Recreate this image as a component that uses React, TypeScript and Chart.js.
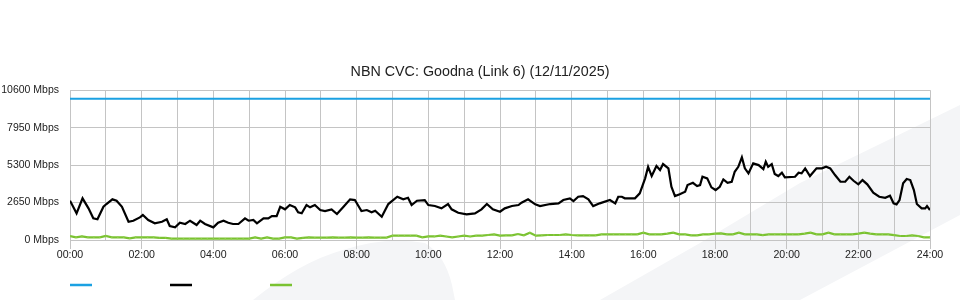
import React, { useEffect, useRef } from "react";
import { Chart, registerables } from "chart.js";

Chart.register(...registerables);

const TITLE = "NBN CVC: Goodna (Link 6) (12/11/2025)";
const Y_MAX = 10600;
const Y_STEP = 2650;
const DAY_MINUTES = 1440;

// Capacity (blue)
const capacityMinutes = [0, 1440];
const capacityMbps = [10000, 10000];

// Traffic (black) - minutes since midnight, Mbps
const trafficMinutes = [
  0, 11, 21, 31, 39, 46, 56, 61, 71, 78, 87, 98, 106, 117, 122, 131, 142, 154, 162, 167,
  176, 184, 193, 201, 212, 218, 226, 240, 248, 257, 265, 273, 282, 293, 299, 307, 313, 324, 332, 338,
  346, 352, 360, 368, 377, 382, 388, 396, 402, 410, 419, 427, 438, 447, 458, 469, 477, 488, 497, 505,
  511, 522, 533, 548, 558, 566, 572, 581, 594, 600, 611, 622, 633, 639, 650, 664, 678, 689, 698, 708,
  720, 728, 740, 751, 756, 767, 779, 787, 804, 818, 826, 837, 843, 851, 859, 868, 876, 887, 904, 913,
  918, 924, 929, 938, 946, 954, 963, 968, 974, 982, 988, 993, 1002, 1007, 1013, 1021, 1030, 1034, 1043, 1050,
  1055, 1059, 1067, 1074, 1081, 1088, 1094, 1101, 1108, 1113, 1119, 1125, 1130, 1136, 1144, 1153, 1161, 1165, 1169, 1175,
  1180, 1186, 1192, 1197, 1214, 1220, 1225, 1231, 1239, 1250, 1259, 1266, 1273, 1281, 1290, 1298, 1305, 1312, 1320, 1327,
  1335, 1345, 1355, 1365, 1373, 1379, 1384, 1389, 1395, 1401, 1407, 1413, 1418, 1426, 1432, 1435, 1440,
];
const trafficMbps = [
  2777, 1887, 2947, 2240, 1533, 1463, 2353, 2544, 2876, 2777, 2353, 1293, 1364, 1600, 1767, 1413, 1180, 1293, 1463, 989,
  895, 1222, 1131, 1364, 1060, 1364, 1131, 895, 1222, 1364, 1222, 1131, 1131, 1533, 1364, 1413, 1180, 1533, 1533, 1696,
  1696, 2353, 2169, 2473, 2311, 1957, 1887, 2473, 2311, 2473, 2120, 2049, 2169, 1837, 2353, 2876, 2827, 2049, 2120, 1957,
  2071, 1647, 2544, 3060, 2876, 2989, 2473, 2777, 2827, 2473, 2403, 2240, 2544, 2169, 1929, 1816, 1887, 2169, 2544, 2169,
  2000, 2240, 2403, 2473, 2636, 2876, 2523, 2403, 2544, 2594, 2827, 2947, 2756, 3060, 3109, 2876, 2403, 2594, 2827, 2594,
  3060, 3060, 2947, 2947, 2947, 3300, 4360, 5180, 4523, 5230, 4947, 5371, 5067, 3767, 3109, 3230, 3413, 3887, 4049, 3816,
  3887, 4473, 4360, 3724, 3534, 3767, 4290, 4049, 4120, 4827, 5180, 5844, 5067, 4714, 5420, 5300, 5018, 5533, 5180, 5371,
  4664, 4523, 4756, 4431, 4473, 4756, 4714, 5067, 4523, 5067, 5067, 5180, 5067, 4594, 4120, 4120, 4473, 4191, 3936, 4240,
  3936, 3343, 3060, 2989, 3131, 2594, 2523, 2827, 4007, 4311, 4240, 3534, 2544, 2240, 2240, 2403, 2120,
];

// Secondary traffic (green) - every 10 minutes
const secondaryMbps = [
  283, 190, 260, 190, 190, 190, 283, 190, 190, 190, 118, 190, 190, 190, 190, 150, 150, 94, 94, 94,
  94, 94, 94, 94, 94, 94, 94, 94, 94, 94, 94, 189, 94, 189, 94, 94, 189, 189, 94, 150,
  189, 165, 165, 165, 190, 165, 165, 190, 165, 165, 190, 165, 165, 165, 306, 306, 306, 306, 306, 189,
  250, 250, 306, 250, 189, 250, 306, 250, 306, 306, 353, 400, 306, 330, 330, 424, 330, 518, 306, 330,
  353, 353, 353, 400, 353, 330, 330, 330, 330, 400, 400, 400, 400, 400, 400, 400, 518, 400, 400, 400,
  450, 518, 400, 400, 330, 330, 400, 400, 450, 470, 400, 400, 518, 400, 400, 400, 350, 400, 400, 400,
  400, 400, 400, 450, 518, 400, 400, 518, 400, 400, 400, 400, 450, 518, 450, 400, 400, 400, 350, 283,
  283, 330, 283, 189, 189,
];
const secondaryStep = 10;

const BLUE = "#1ba1e2";
const BLACK = "#000000";
const GREEN = "#7ac231";
const GRID = "#c4c4c4";
const FONT = "'Liberation Sans', Arial, sans-serif";

const pad2 = (n: number) => (n < 10 ? "0" + n : "" + n);

const watermarkPlugin = {
  id: "watermark",
  beforeDraw(chart: any) {
    const ctx = chart.ctx;
    ctx.save();
    ctx.fillStyle = "#f4f5f7";
    ctx.beginPath();
    ctx.moveTo(600, 300);
    ctx.lineTo(700, 243);
    ctx.lineTo(800, 183);
    ctx.lineTo(960, 105);
    ctx.lineTo(960, 215);
    ctx.lineTo(800, 300);
    ctx.closePath();
    ctx.fill();
    ctx.beginPath();
    ctx.moveTo(253, 300);
    ctx.quadraticCurveTo(300, 262, 343, 250);
    ctx.quadraticCurveTo(385, 236, 425, 243);
    ctx.quadraticCurveTo(445, 255, 452, 285);
    ctx.lineTo(455, 300);
    ctx.closePath();
    ctx.fill();
    ctx.restore();
  },
};

const legendPlugin = {
  id: "lineLegend",
  afterDraw(chart: any) {
    const ctx = chart.ctx;
    const area = chart.chartArea;
    ctx.save();
    chart.data.datasets.forEach((ds: any, i: number) => {
      const x = area.left + i * 100;
      const y = chart.height - 15;
      ctx.strokeStyle = ds.borderColor;
      ctx.lineWidth = 2.5;
      ctx.beginPath();
      ctx.moveTo(x, y);
      ctx.lineTo(x + 22, y);
      ctx.stroke();
    });
    ctx.restore();
  },
};

export default function App() {
  const ref = useRef<HTMLCanvasElement | null>(null);

  useEffect(() => {
    document.body.style.margin = "0";
    const canvas = ref.current;
    if (!canvas) return;
    const chart = new Chart(canvas, {
      type: "line",
      data: {
        datasets: [
          {
            label: "Capacity",
            data: capacityMinutes.map((m, i) => ({ x: m, y: capacityMbps[i] })),
            borderColor: BLUE,
            backgroundColor: BLUE,
            borderWidth: 2,
            pointRadius: 0,
          },
          {
            label: "Traffic",
            data: trafficMinutes.map((m, i) => ({ x: m, y: trafficMbps[i] })),
            borderColor: BLACK,
            backgroundColor: BLACK,
            borderWidth: 2.2,
            pointRadius: 0,
            tension: 0,
          },
          {
            label: "Secondary",
            data: secondaryMbps.map((v, i) => ({ x: i * secondaryStep, y: v })),
            borderColor: GREEN,
            backgroundColor: "#8fcf4a",
            borderWidth: 2.2,
            pointRadius: 1,
            pointStyle: "rect",
            pointBorderWidth: 0,
          },
        ],
      },
      options: {
        animation: false,
        responsive: false,
        maintainAspectRatio: false,
        layout: { padding: { top: 53, right: 0, bottom: 38, left: 0 } },
        plugins: {
          legend: { display: false },
          tooltip: { enabled: false },
          title: {
            display: true,
            text: TITLE,
            color: "#222",
            font: { family: FONT, size: 14.3, weight: "normal" },
            padding: { top: 10, bottom: 10 },
          },
        },
        scales: {
          x: {
            type: "linear",
            min: 0,
            max: DAY_MINUTES,
            border: { display: false },
            afterFit: (s: any) => {
              s.height = 22;
            },
            grid: {
              color: GRID,
              lineWidth: 1,
              tickLength: 9,
              tickColor: (c: any) => (c.tick && c.tick.value % 120 === 0 ? GRID : "rgba(0,0,0,0)"),
            },
            ticks: {
              stepSize: 60,
              autoSkip: false,
              maxRotation: 0,
              padding: 0,
              color: "#222",
              font: { family: FONT, size: 10.6 },
              callback: (v: any) => (v % 120 === 0 ? pad2(Math.round(v / 60)) + ":00" : ""),
            },
          },
          y: {
            min: 0,
            max: Y_MAX,
            border: { display: false },
            grid: { color: GRID, lineWidth: 1, drawTicks: false },
            afterFit: (s: any) => {
              s.width = 70;
            },
            ticks: {
              stepSize: Y_STEP,
              padding: 11,
              color: "#222",
              font: { family: FONT, size: 10.5 },
              callback: (v: any) => v + " Mbps",
            },
          },
          yRight: {
            position: "right",
            display: true,
            min: 0,
            max: Y_MAX,
            border: { display: false },
            grid: { display: false, drawTicks: false },
            ticks: { display: false },
            afterFit: (s: any) => {
              s.width = 30;
            },
          },
        },
      },
      plugins: [watermarkPlugin, legendPlugin],
    });
    return () => chart.destroy();
  }, []);

  return (
    <div style={{ width: 960, height: 300 }}>
      <canvas ref={ref} width={960} height={300} style={{ display: "block" }} />
    </div>
  );
}
